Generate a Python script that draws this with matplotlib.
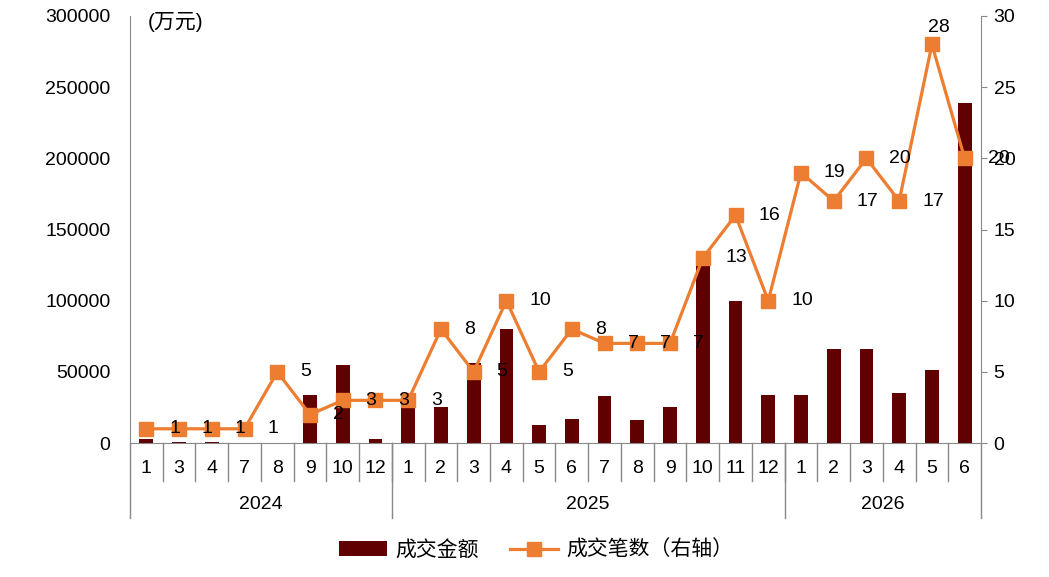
import matplotlib.pyplot as plt
import numpy as np

plt.rcParams['font.family'] = ['Liberation Sans', 'Noto Sans CJK SC']

# 月份 / 年份
months = ['1', '3', '4', '7', '8', '9', '10', '12',
          '1', '2', '3', '4', '5', '6', '7', '8', '9', '10', '11', '12',
          '1', '2', '3', '4', '5', '6']
years = ['2024', '2025', '2026']
year_counts = [8, 12, 6]

# 成交金额（万元）
amount = [2500, 700, 700, 200, 300, 34000, 55000, 3000,
          28000, 25500, 56000, 80000, 13000, 17000, 33000, 16000, 25000, 128000, 100000, 34000,
          34000, 66000, 66000, 35000, 51000, 239000]
# 成交笔数（右轴）
deals = [1, 1, 1, 1, 5, 2, 3, 3,
         3, 8, 5, 10, 5, 8, 7, 7, 7, 13, 16, 10,
         19, 17, 20, 17, 28, 20]

bar_color = '#600000'
line_color = '#ED7D31'
axis_color = '#898989'
fs = 14
fs_cn = 15

fig = plt.figure(figsize=(10.49, 5.77), dpi=100)
ax = fig.add_axes([0.1239, 0.2322, 0.8113, 0.7401])
x = np.arange(len(months))

bars = ax.bar(x, amount, width=0.42, color=bar_color, zorder=2, label='成交金额')
ax.set_xlim(-0.5, len(months) - 0.5)
ax.set_ylim(0, 300000)
ax.set_yticks(np.arange(0, 300001, 50000))
ax.tick_params(axis='y', length=0, pad=14, labelsize=fs)
ax.set_xticks([])
for s in ['top', 'right']:
    ax.spines[s].set_visible(False)
for s in ['left', 'bottom']:
    ax.spines[s].set_color(axis_color)

ax2 = ax.twinx()
line, = ax2.plot(x, deals, color=line_color, lw=2.3, marker='s', markersize=10,
                 label='成交笔数（右轴）')
ax2.set_ylim(0, 30)
ax2.set_yticks(np.arange(0, 31, 5))
ax2.tick_params(axis='y', length=4, color=axis_color, pad=5, labelsize=fs)
for s in ['top', 'left', 'bottom']:
    ax2.spines[s].set_visible(False)
ax2.spines['right'].set_color(axis_color)

# 数据标签
for i, v in enumerate(deals):
    if v == max(deals):
        ax2.annotate(str(v), (i, v), xytext=(5, 12), textcoords='offset points',
                     ha='center', va='center', fontsize=fs)
    else:
        ax2.annotate(str(v), (i, v), xytext=(16.5, 0), textcoords='offset points',
                     ha='left', va='center', fontsize=fs)

ax.text(0.021, 0.986, '(万元)', transform=ax.transAxes, fontsize=fs_cn,
        ha='left', va='center')

# 多级分类轴
trans = ax.get_xaxis_transform()
for i, m in enumerate(months):
    ax.text(i, -0.0585, m, transform=trans, ha='center', va='center', fontsize=fs)
for b in range(1, len(months)):
    ax.plot([b - 0.5, b - 0.5], [0, -0.089], transform=trans, color=axis_color,
            lw=1, clip_on=False)
start = 0
bounds = [0]
for y, n in zip(years, year_counts):
    ax.text(start + (n - 1) / 2, -0.145, y, transform=trans, ha='center',
            va='center', fontsize=fs)
    start += n
    bounds.append(start)
for b in bounds:
    ax.plot([b - 0.5, b - 0.5], [0, -0.176], transform=trans, color=axis_color,
            lw=1, clip_on=False)

fig.legend([bars, line], ['成交金额', '成交笔数（右轴）'], loc='center',
           bbox_to_anchor=(0.511, 0.047), ncol=2, frameon=False, fontsize=fs_cn,
           handlelength=2.3, columnspacing=1.5, handletextpad=0.4)

fig.savefig('out.png', dpi=100)
